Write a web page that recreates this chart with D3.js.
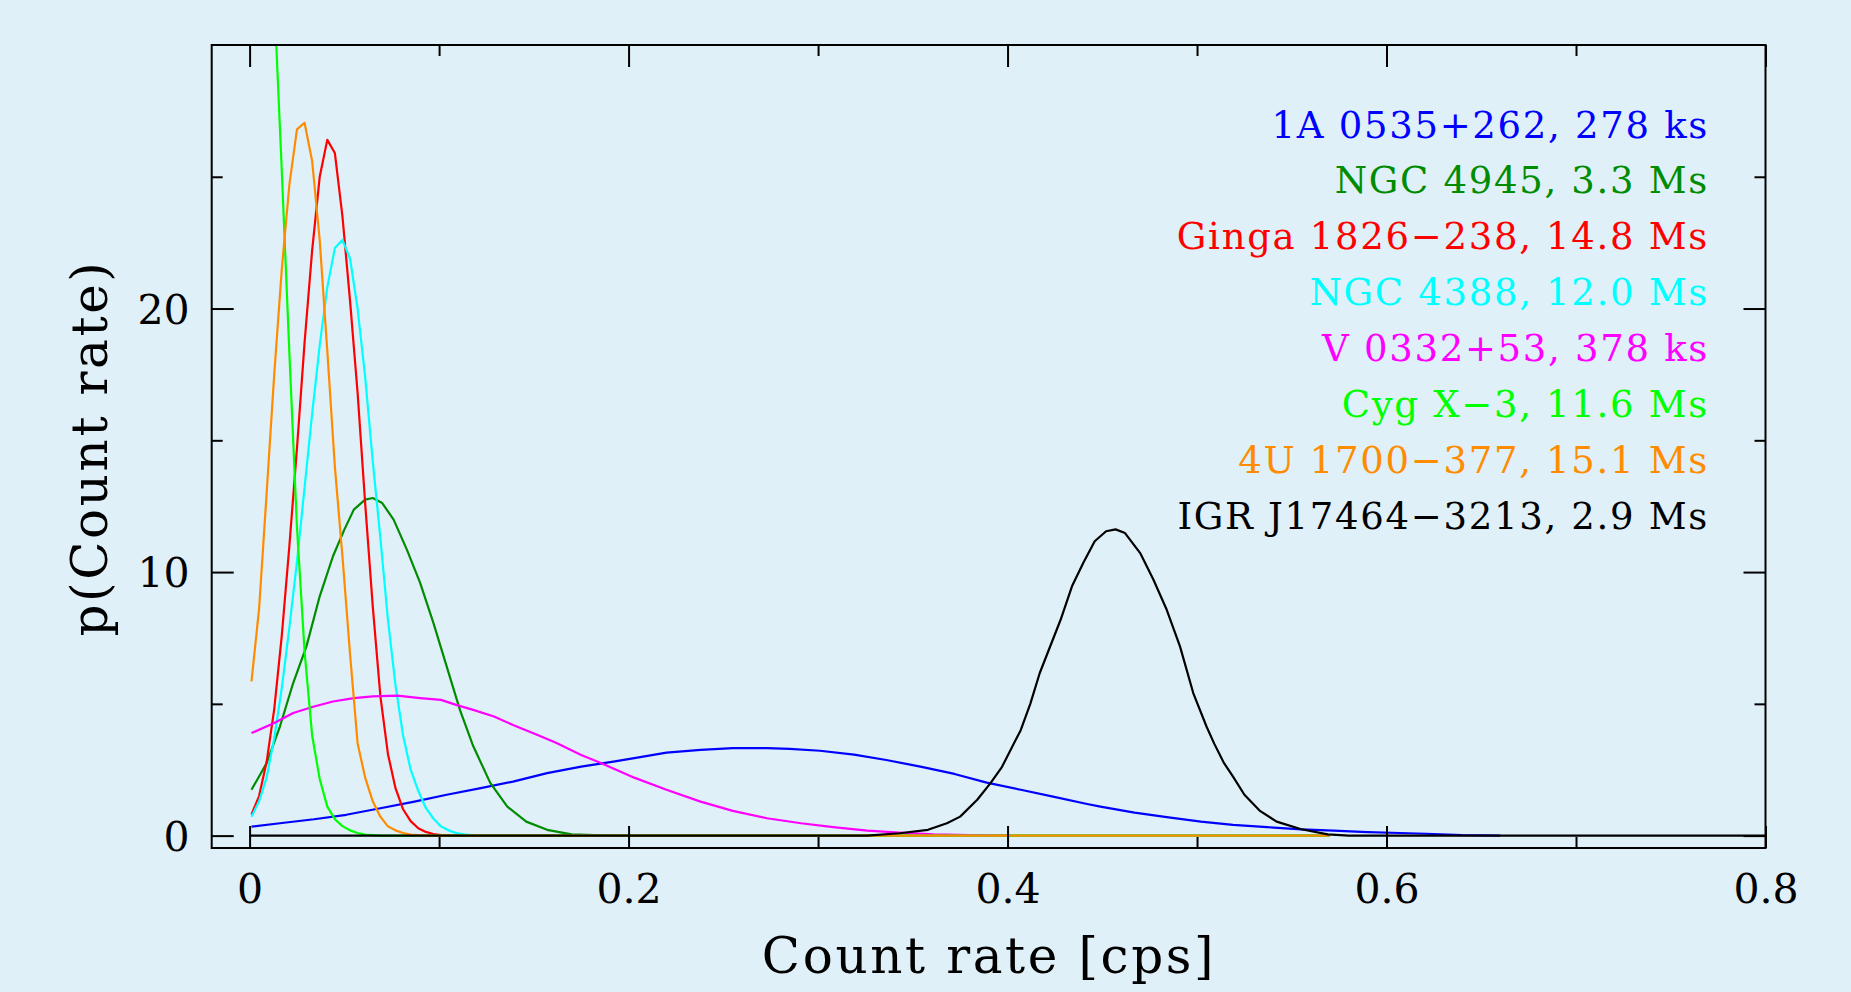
<!DOCTYPE html>
<html><head><meta charset="utf-8">
<script src="https://cdn.jsdelivr.net/npm/d3@7"></script>
<style>html,body{margin:0;padding:0;background:#e0f0f8;} svg{display:block;}</style>
</head><body><svg id="c" width="1851" height="992"></svg>
<script>
// ---------- data ----------
const xGrid = [0.001,0.005,0.009,0.013,0.017,0.021,0.025,0.029,0.033,0.037,0.041,0.045,0.049,0.053,0.057,0.061,0.065,0.069,0.073,0.077,0.081,0.085,0.089,0.093,0.097,0.101,0.105,0.109,0.113,0.117,0.121];
const cygX3Values  = [55,48,40,31.8,25.2,18.3,11.7,7.0,3.8,2.15,1.1,0.62,0.36,0.2,0.1,0.04,0.02,0];
const u1700Values  = [5.85,8.6,13.0,17.5,21.5,24.7,26.8,27.05,25.6,22.6,18.4,14.0,10.6,6.9,3.5,2.2,1.3,0.72,0.35,0.2,0.1,0.04,0.02,0];
const gingaValues  = [0.8,1.5,2.8,4.8,7.6,11.0,14.7,18.7,22.2,25.0,26.4,25.9,23.5,20.3,16.8,12.6,8.7,5.3,3.1,1.8,1.0,0.55,0.28,0.14,0.06,0.02,0];
const ngc4388Values= [0.72,1.3,2.2,3.7,5.6,7.9,10.4,13.2,16.0,18.6,20.8,22.3,22.6,21.9,20.0,17.4,14.2,11.3,8.2,5.7,3.8,2.5,1.7,1.05,0.65,0.35,0.2,0.1,0.05,0.02,0];
const tailEnd = 0.57;

const ngc4945 = [[0.001,1.74],[0.009,2.75],[0.016,4.14],[0.023,5.79],[0.030,7.18],[0.037,9.08],[0.044,10.6],[0.050,11.61],[0.055,12.37],[0.061,12.75],[0.065,12.81],[0.070,12.62],[0.076,11.99],[0.083,10.85],[0.090,9.59],[0.097,8.07],[0.104,6.42],[0.111,4.77],[0.118,3.4],[0.127,2.0],[0.136,1.1],[0.146,0.53],[0.157,0.22],[0.170,0.05],[0.190,0]];
const v0332 = [[0.001,3.89],[0.013,4.27],[0.023,4.65],[0.034,4.9],[0.044,5.09],[0.055,5.22],[0.065,5.28],[0.078,5.31],[0.090,5.22],[0.101,5.15],[0.109,4.96],[0.118,4.77],[0.129,4.52],[0.139,4.2],[0.152,3.82],[0.162,3.51],[0.175,3.06],[0.186,2.74],[0.203,2.2],[0.220,1.74],[0.238,1.29],[0.255,0.94],[0.273,0.66],[0.291,0.47],[0.308,0.32],[0.326,0.19],[0.343,0.11],[0.361,0.05],[0.380,0.02],[0.40,0]];
const a0535 = [[0.001,0.34],[0.016,0.47],[0.034,0.62],[0.051,0.79],[0.069,1.04],[0.087,1.29],[0.104,1.55],[0.122,1.8],[0.139,2.05],[0.157,2.37],[0.175,2.62],[0.192,2.81],[0.203,2.94],[0.220,3.15],[0.238,3.25],[0.255,3.32],[0.273,3.32],[0.285,3.29],[0.301,3.22],[0.319,3.07],[0.336,2.87],[0.354,2.62],[0.372,2.34],[0.389,2.01],[0.407,1.74],[0.424,1.48],[0.442,1.2],[0.449,1.1],[0.467,0.87],[0.484,0.70],[0.502,0.53],[0.519,0.41],[0.537,0.32],[0.555,0.24],[0.572,0.19],[0.590,0.13],[0.607,0.1],[0.621,0.07],[0.640,0.02],[0.66,0]];
const igr = [[0,0],[0.326,0],[0.343,0.09],[0.358,0.22],[0.368,0.47],[0.375,0.72],[0.384,1.36],[0.391,1.99],[0.397,2.6],[0.407,4.01],[0.412,5.0],[0.417,6.17],[0.428,8.19],[0.434,9.46],[0.440,10.35],[0.446,11.17],[0.452,11.55],[0.457,11.62],[0.462,11.48],[0.470,10.72],[0.477,9.71],[0.484,8.57],[0.491,7.18],[0.498,5.41],[0.505,4.14],[0.509,3.5],[0.514,2.78],[0.519,2.24],[0.525,1.55],[0.533,0.95],[0.542,0.53],[0.555,0.24],[0.569,0.05],[0.58,0],[0.8,0]];

const labels = ["1A 0535+262, 278 ks","NGC 4945, 3.3 Ms","Ginga 1826\u2212238, 14.8 Ms","NGC 4388, 12.0 Ms","V 0332+53, 378 ks","Cyg X\u22123, 11.6 Ms","4U 1700\u2212377, 15.1 Ms","IGR J17464\u22123213, 2.9 Ms"];
const colors = ["#0000ff","#008c00","#ff0000","#00ffff","#ff00ff","#00ff00","#ff8c00","#000000"];
const xMajor = [0,0.2,0.4,0.6,0.8];
const xMinor = [0.1,0.3,0.5,0.7];
const yMajor = [0,10,20];
const yMinor = [5,15,25];

// ---------- build ----------
const zip = (vals) => vals.map((v,i)=>[xGrid[i],v]).concat([[tailEnd,0]]);
const series = [a0535, ngc4945, zip(gingaValues), zip(ngc4388Values), v0332, zip(cygX3Values), zip(u1700Values), igr];

const W=1851,H=992;
const svg=d3.select('#c');
svg.append('rect').attr('width',W).attr('height',H).attr('fill','#e0f0f8');

const x=d3.scaleLinear().domain([-0.02,0.8]).range([211.7,1765.5]);
const y=d3.scaleLinear().domain([-0.47,30]).range([848,45]);
const [x0,x1]=x.range(), [y0,y1]=y.range();

svg.append('clipPath').attr('id','pc').append('rect')
  .attr('x',x0).attr('y',y1).attr('width',x1-x0).attr('height',y0-y1);

const line=d3.line().x(d=>x(d[0])).y(d=>y(d[1]));
const g=svg.append('g').attr('clip-path','url(#pc)');
series.forEach((s,i)=>{
  g.append('path').datum(s).attr('d',line).attr('fill','none')
   .attr('stroke',colors[i]).attr('stroke-width',2.2).attr('stroke-linejoin','round');
});

// frame
svg.append('rect').attr('x',x0).attr('y',y1).attr('width',x1-x0).attr('height',y0-y1)
  .attr('fill','none').attr('stroke','#000').attr('stroke-width',2);

const font="'DejaVu Serif', serif";
function ax(gen, tr, vals, size, showLabels){
  const a=svg.append('g').attr('transform',tr)
    .call(gen.tickValues(vals).tickSizeInner(-size).tickSizeOuter(0).tickPadding(22)
      .tickFormat(showLabels? (d=>String(d)) : ()=>''));
  a.select('.domain').remove();
  a.selectAll('.tick line').attr('stroke','#000').attr('stroke-width',2);
  a.selectAll('text').attr('font-family',font).attr('font-size',41).attr('fill','#000');
  return a;
}
const bx=ax(d3.axisBottom(x),`translate(0,${y0})`,xMajor,22,true);
bx.selectAll('text').attr('y',55).attr('dy',0);
ax(d3.axisBottom(x),`translate(0,${y0})`,xMinor,11,false);
ax(d3.axisTop(x),`translate(0,${y1})`,xMajor,22,false);
ax(d3.axisTop(x),`translate(0,${y1})`,xMinor,11,false);
const ly=ax(d3.axisLeft(y),`translate(${x0},0)`,yMajor,22,true);
ly.selectAll('text').attr('dy','0.36em');
ax(d3.axisLeft(y),`translate(${x0},0)`,yMinor,11,false);
ax(d3.axisRight(y),`translate(${x1},0)`,yMajor,22,false);
ax(d3.axisRight(y),`translate(${x1},0)`,yMinor,11,false);

// axis titles
svg.append('text').text('Count rate [cps]').attr('x',989).attr('y',973)
  .attr('text-anchor','middle').attr('font-family',font).attr('font-size',50)
  .attr('letter-spacing','2.6px').attr('fill','#000');
svg.append('text').text('p(Count rate)').attr('transform','translate(107,448) rotate(-90)')
  .attr('text-anchor','middle').attr('font-family',font).attr('font-size',50)
  .attr('letter-spacing','2.6px').attr('fill','#000');

// legend
labels.forEach((t,i)=>{
  svg.append('text').text(t).attr('x',1709).attr('y',137.5+55.86*i)
    .attr('text-anchor','end').attr('font-family',font).attr('font-size',37)
    .attr('letter-spacing','1.7px').attr('fill',colors[i]);
});
</script></body></html>
